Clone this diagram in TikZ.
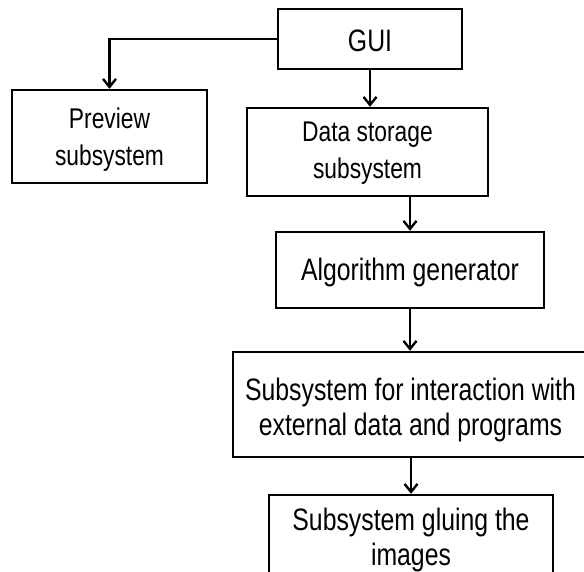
\documentclass[tikz,border=0pt]{standalone}
\usepackage{fontspec}
\setmainfont[FakeStretch=0.80]{Liberation Sans}
\usetikzlibrary{arrows.meta}
\begin{document}
\begin{tikzpicture}[x=1pt,y=-1pt,
  box/.style={draw,line width=2.4pt,inner sep=0pt},
  txt/.style={inner sep=0pt,align=center,font=\fontsize{31}{35}\selectfont},
  small/.style={font=\fontsize{28.5}{37}\selectfont},
  link/.style={line width=2.4pt,-{Straight Barb[length=8pt,width=13pt,line width=2.4pt]}}]
\useasboundingbox (0,0) rectangle (584,571);
\clip (0,0) rectangle (584,571);
\fill[white] (0,0) rectangle (584,571);
\node[box,minimum width=184pt,minimum height=60pt] (gui) at (370,39) {};
\node[txt] (guit) at ([yshift=-2pt]gui.center) {GUI};
\node[box,minimum width=195pt,minimum height=93pt] (prev) at (109.5,136.5) {};
\node[txt,small] (prevt) at ([yshift=-3pt]prev.center) {Preview\\subsystem};
\node[box,minimum width=241pt,minimum height=88pt] (data) at (367.5,152) {};
\node[txt,small] (datat) at ([yshift=-1pt]data.center) {Data storage\\subsystem};
\node[box,minimum width=268pt,minimum height=76pt] (algo) at (410,270) {};
\node[txt] (algot) at ([yshift=-2pt]algo.center) {Algorithm generator};
\node[box,minimum width=355pt,minimum height=105pt] (inter) at (410.5,404.5) {};
\node[txt] (intert) at ([yshift=-5pt]inter.center) {Subsystem for interaction with\\external data and programs};
\node[box,minimum width=284pt,minimum height=87pt] (glue) at (411,538.5) {};
\node[txt] (gluet) at ([yshift=-1pt]glue.center) {Subsystem gluing the\\images};
\draw[link] (gui.west) -| (prev.north);
\draw[link] (gui.south) -- (gui.south |- data.north);
\draw[link] (algo.north |- data.south) -- (algo.north);
\draw[link] (algo.south) -- (algo.south |- inter.north);
\draw[link] (inter.south -| glue.north) -- (glue.north);
\end{tikzpicture}
\end{document}
